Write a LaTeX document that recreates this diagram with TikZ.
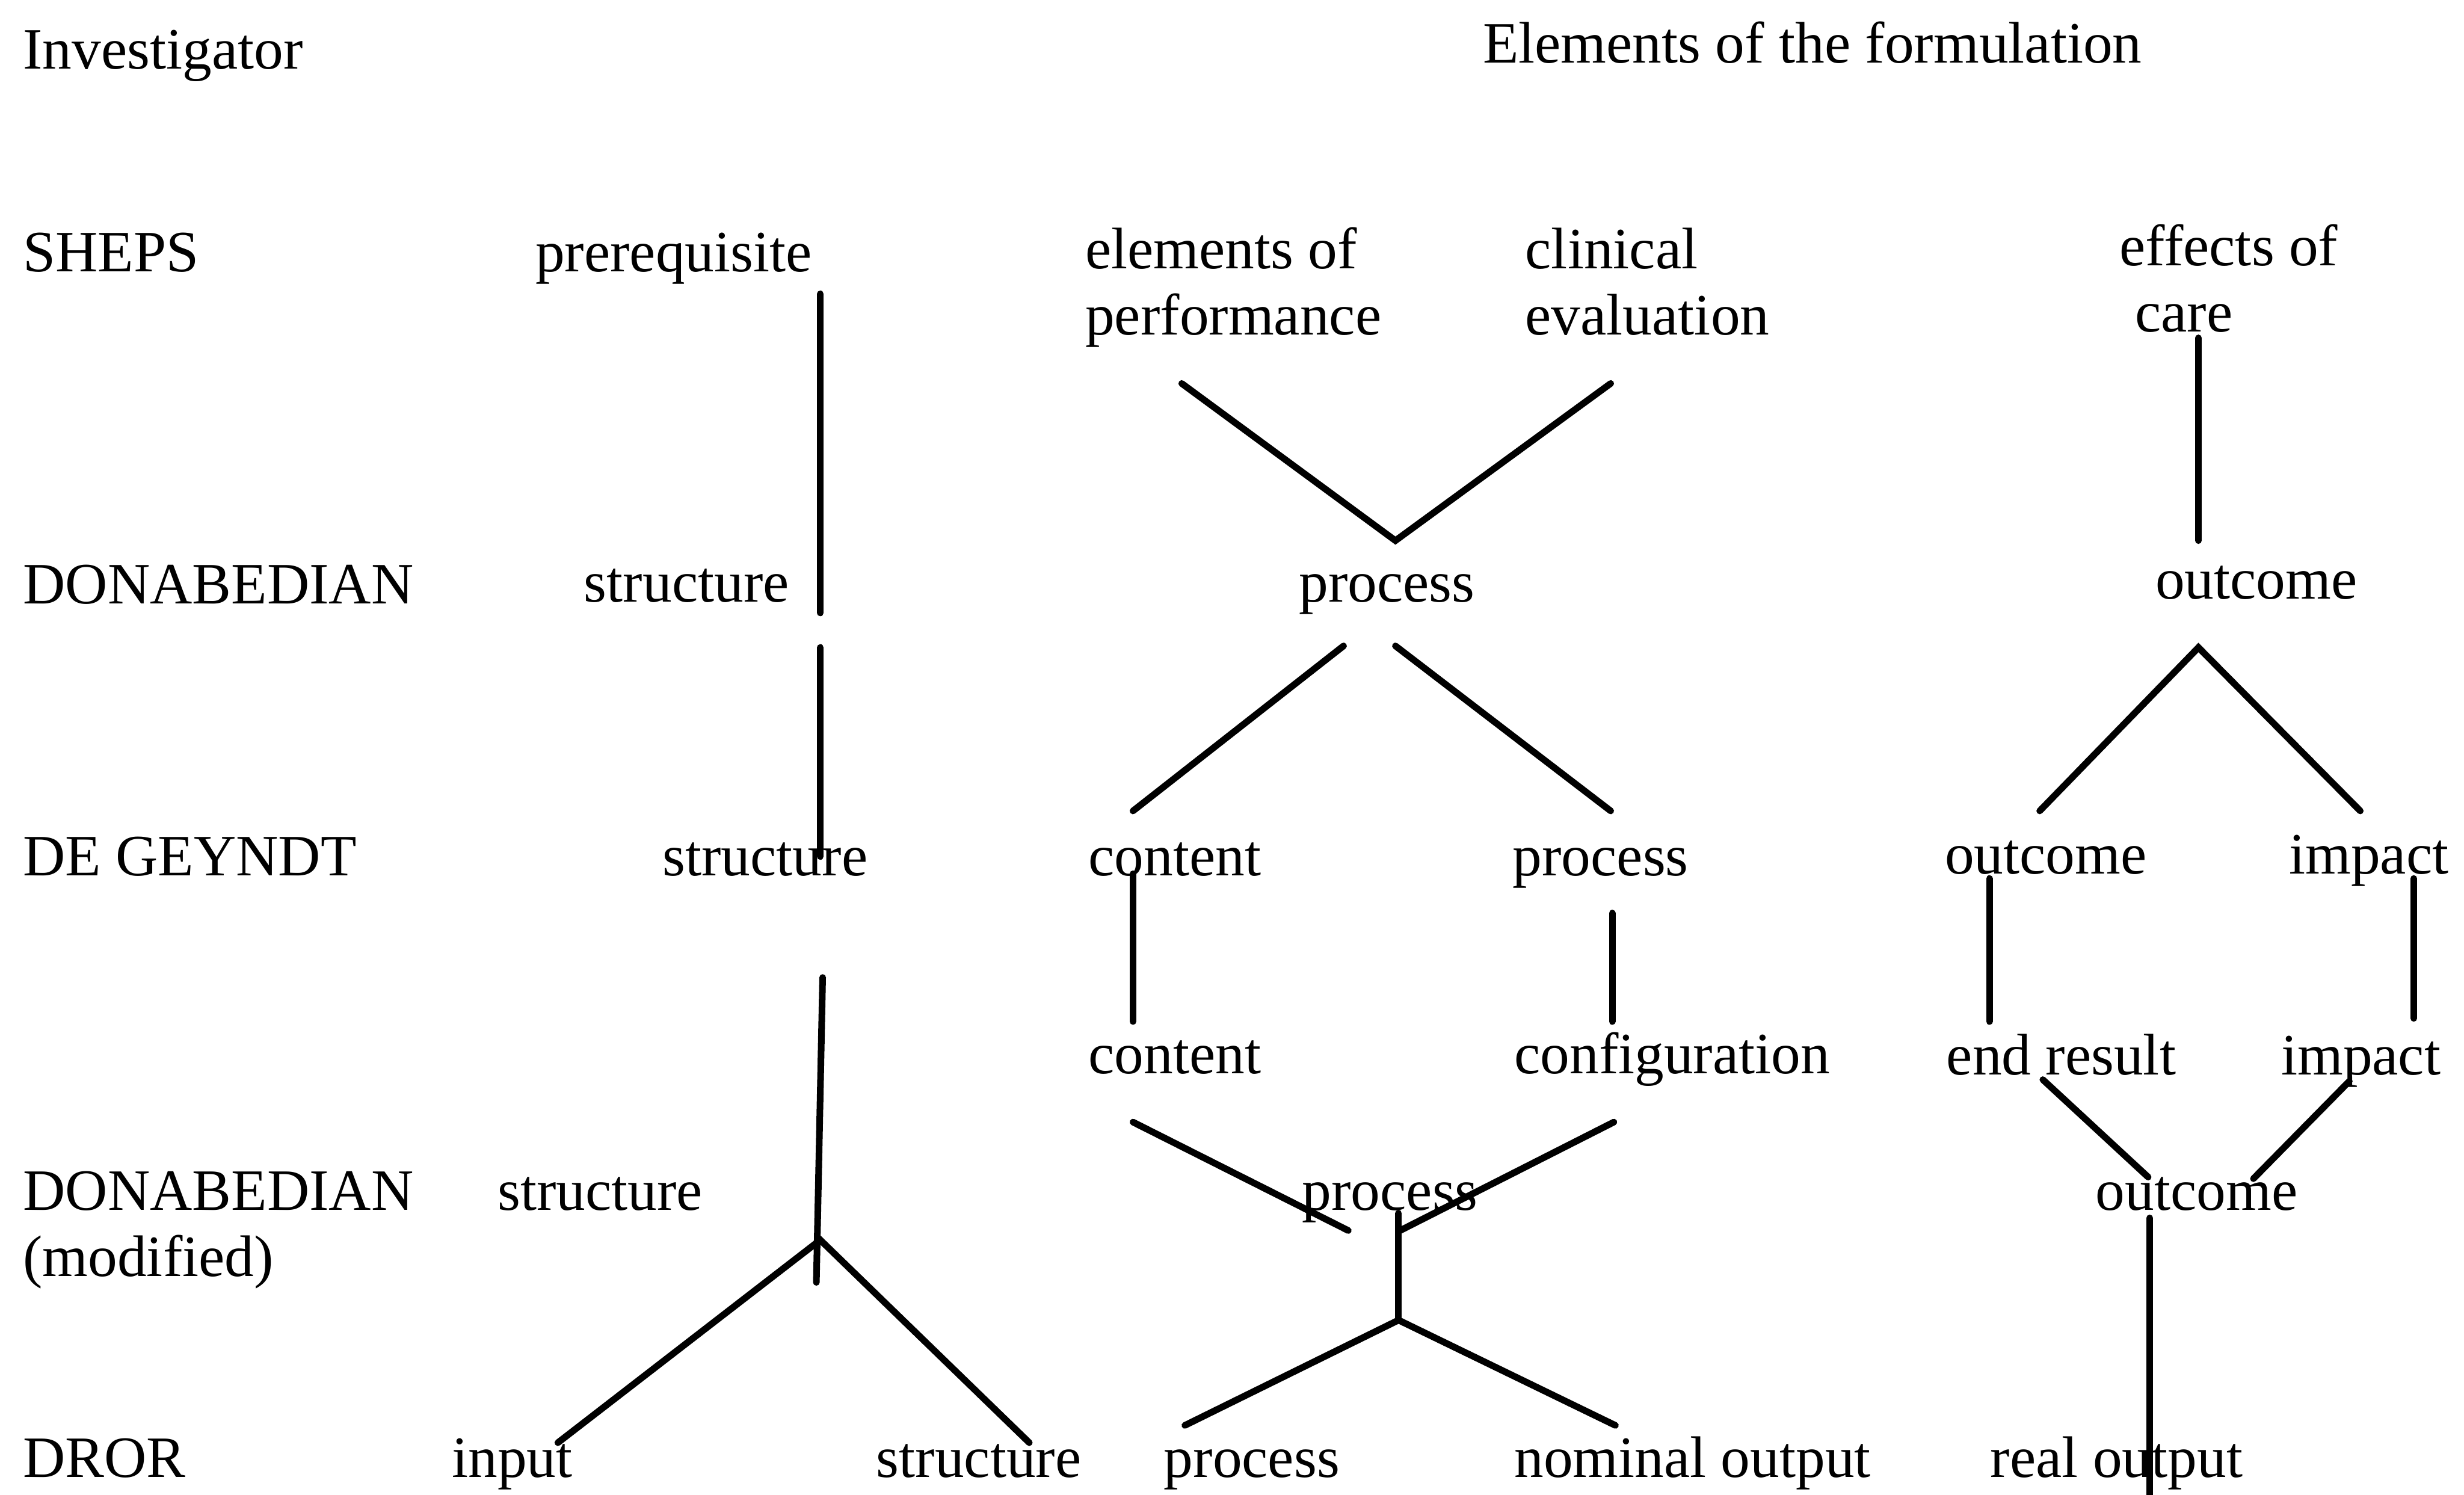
\documentclass[tikz,border=0pt]{standalone}
\usepackage{fontspec}
\setmainfont{Liberation Serif}
\begin{document}
\begin{tikzpicture}[x=0.01cm,y=-0.01cm,
  lbl/.style={anchor=base west,inner sep=0pt,font=\fontsize{10.6}{12.7}\selectfont},
  link/.style={line width=1.2pt,line cap=round}]
\useasboundingbox (0,0) rectangle (1568,951);

% headings and investigator column
\node[lbl] (hinv)  at (14,44)  {Investigator};
\node[lbl] (hform) at (943,40) {Elements of the formulation};
\node[lbl] (iShe)  at (14,173) {SHEPS};
\node[lbl] (iDon)  at (14,384) {DONABEDIAN};
\node[lbl] (iGey)  at (14,557) {DE GEYNDT};
\node[lbl] (iDm)   at (14,770) {DONABEDIAN};
\node[lbl] (iDm2)  at (14,812) {(modified)};
\node[lbl] (iDro)  at (14,940) {DROR};

% SHEPS
\node[lbl] (sPre)  at (340,173)  {prerequisite};
\node[lbl] (sEl1)  at (690,171)  {elements of};
\node[lbl] (sEl2)  at (690,213)  {performance};
\node[lbl] (sCl1)  at (970,171)  {clinical};
\node[lbl] (sCl2)  at (970,213)  {evaluation};
\node[lbl] (sEf1)  at (1348,169) {effects of};
\node[lbl] (sEf2)  at (1358,211) {care};

% DONABEDIAN
\node[lbl] (dStr)  at (371,383)  {structure};
\node[lbl] (dPro)  at (826,383)  {process};
\node[lbl] (dOut)  at (1371,381) {outcome};

% DE GEYNDT
\node[lbl] (gStr)  at (421,557)  {structure};
\node[lbl] (gCon)  at (692,557)  {content};
\node[lbl] (gPro)  at (962,557)  {process};
\node[lbl] (gOut)  at (1237,556) {outcome};
\node[lbl] (gImp)  at (1456,556) {impact};
\node[lbl] (gCon2) at (692,683)  {content};
\node[lbl] (gCfg)  at (963,683)  {configuration};
\node[lbl] (gEnd)  at (1238,684) {end result};
\node[lbl] (gImp2) at (1451,684) {impact};

% DONABEDIAN (modified)
\node[lbl] (mStr)  at (316,770)  {structure};
\node[lbl] (mPro)  at (828,770)  {process};
\node[lbl] (mOut)  at (1333,770) {outcome};

% DROR
\node[lbl] (rIn)   at (287,940)  {input};
\node[lbl] (rStr)  at (557,940)  {structure};
\node[lbl] (rPro)  at (740,940)  {process};
\node[lbl] (rNom)  at (963,940)  {nominal output};
\node[lbl] (rReal) at (1266,940) {real output};

% connector end points
\coordinate (a1) at (522,187);  \coordinate (a2) at (522,390);
\coordinate (b1) at (522,412);  \coordinate (b2) at (522,545);
\coordinate (c1) at (523.5,622); \coordinate (c2) at (519.5,816);
\coordinate (cj) at (522,789);
\coordinate (cin) at (355,918); \coordinate (cst) at (655,918);

\coordinate (p1) at (752,244);  \coordinate (p2) at (1025,244);
\coordinate (pj) at (888,344);
\coordinate (q1) at (855,411);  \coordinate (q2) at (888,411);
\coordinate (q3) at (721,516);  \coordinate (q4) at (1025,516);
\coordinate (r1) at (721,556);  \coordinate (r2) at (721,650);
\coordinate (r3) at (1026,581); \coordinate (r4) at (1026,650);
\coordinate (s1) at (721,714);  \coordinate (s2) at (858,783);
\coordinate (s3) at (1027,714); \coordinate (s4) at (891,783);
\coordinate (t1) at (890,772);  \coordinate (tj) at (890,840);
\coordinate (t2) at (754,907);  \coordinate (t3) at (1028,907);

\coordinate (u1) at (1399,215); \coordinate (u2) at (1399,344);
\coordinate (uj) at (1399,412);
\coordinate (u3) at (1298,516); \coordinate (u4) at (1502,516);
\coordinate (v1) at (1266,559); \coordinate (v2) at (1266,650);
\coordinate (v3) at (1536,559); \coordinate (v4) at (1536,648);
\coordinate (w1) at (1300,687); \coordinate (w2) at (1367,749);
\coordinate (w3) at (1495,688); \coordinate (w4) at (1434,750);
\coordinate (x1) at (1368,775); \coordinate (x2) at (1368,951);

% structure column
\draw[link] (a1) -- (a2);
\draw[link] (b1) -- (b2);
\draw[link] (c1) -- (c2);
\draw[link] (cin) -- (cj) -- (cst);

% process column
\draw[link] (p1) -- (pj) -- (p2);
\draw[link] (q1) -- (q3);
\draw[link] (q2) -- (q4);
\draw[link] (r1) -- (r2);
\draw[link] (r3) -- (r4);
\draw[link] (s1) -- (s2);
\draw[link] (s3) -- (s4);
\draw[link] (t1) -- (tj);
\draw[link] (t2) -- (tj) -- (t3);

% outcome column
\draw[link] (u1) -- (u2);
\draw[link] (u3) -- (uj) -- (u4);
\draw[link] (v1) -- (v2);
\draw[link] (v3) -- (v4);
\draw[link] (w1) -- (w2);
\draw[link] (w3) -- (w4);
\draw[link] (x1) -- (x2);
\end{tikzpicture}
\end{document}
